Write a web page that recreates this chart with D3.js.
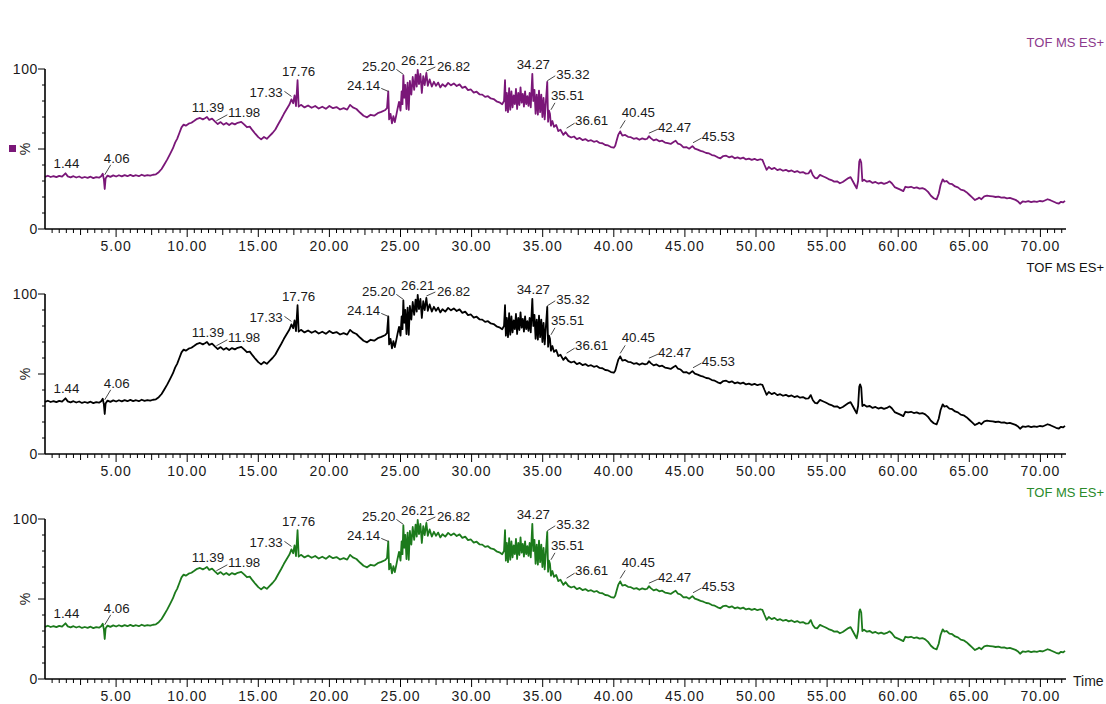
<!DOCTYPE html>
<html>
<head>
<meta charset="utf-8">
<script src="https://cdn.jsdelivr.net/npm/d3@7"></script>
<style>
  body { margin: 0; background: #fff; }
  svg { display: block; }
  text { font-family: "Liberation Sans", Arial, sans-serif; }
</style>
</head>
<body>
<svg id="chart" width="1106" height="704"></svg>
<script>
// Total ion chromatogram: [retention time (min), relative intensity (%)]
const chromatogram = [
  [0.00,32.6],[0.20,33.3],[0.40,32.5],[0.60,33.1],[0.80,32.4],[1.00,33.2],[1.20,32.7],[1.44,34.8],[1.60,32.9],[1.80,32.3],
  [2.00,33.0],[2.20,32.2],[2.40,32.8],[2.60,31.9],[2.80,32.5],[3.00,32.0],[3.20,32.7],[3.40,31.8],[3.60,32.4],[3.80,32.1],
  [3.95,33.0],[4.06,34.5],[4.14,31.0],[4.20,25.0],[4.26,31.5],[4.40,33.4],[4.60,32.6],[4.80,33.5],[5.00,32.8],[5.20,33.6],
  [5.40,32.9],[5.60,33.7],[5.80,33.0],[6.00,33.8],[6.20,33.1],[6.40,33.6],[6.60,33.0],[6.80,33.9],[7.00,33.2],[7.20,33.7],
  [7.40,33.3],[7.60,33.9],[7.80,34.2],[8.00,35.5],[8.20,37.5],[8.40,40.5],[8.60,43.5],[8.80,47.0],[9.00,50.5],[9.15,54.0],
  [9.30,56.5],[9.45,60.0],[9.60,63.5],[9.75,65.2],[9.90,64.6],[10.10,65.8],[10.30,66.4],[10.50,67.6],[10.70,68.9],[10.90,69.4],
  [11.10,68.5],[11.25,69.2],[11.39,70.0],[11.55,68.2],[11.75,69.0],[11.98,67.0],[12.15,65.6],[12.35,66.8],[12.55,65.2],[12.75,66.3],
  [12.95,65.0],[13.15,66.2],[13.35,65.4],[13.55,66.4],[13.80,67.0],[14.00,65.4],[14.20,63.6],[14.40,64.0],[14.60,61.6],[14.80,59.4],
  [15.00,57.4],[15.20,56.0],[15.40,57.5],[15.60,56.4],[15.80,58.2],[16.00,60.0],[16.20,62.2],[16.40,65.5],[16.60,68.6],[16.80,72.0],
  [17.00,75.0],[17.20,78.0],[17.33,81.0],[17.45,78.6],[17.55,83.5],[17.65,76.8],[17.76,93.0],[17.84,76.5],[18.00,77.6],[18.25,76.0],
  [18.50,77.2],[18.75,75.8],[19.00,76.9],[19.25,75.3],[19.50,76.4],[19.75,75.1],[20.00,76.9],[20.25,75.5],[20.50,76.2],[20.75,74.7],
  [21.00,75.5],[21.25,74.6],[21.45,77.6],[21.65,76.0],[21.90,75.0],[22.15,72.8],[22.40,70.8],[22.65,69.8],[22.90,71.4],[23.15,70.8],
  [23.40,72.4],[23.65,73.2],[23.90,74.2],[24.05,75.5],[24.14,86.0],[24.20,68.5],[24.30,72.0],[24.40,66.0],[24.50,70.5],[24.60,66.8],
  [24.70,71.0],[24.80,75.5],[24.90,79.5],[25.00,74.0],[25.08,86.0],[25.14,78.0],[25.20,96.0],[25.27,82.0],[25.34,90.0],[25.42,75.0],
  [25.50,91.5],[25.58,74.5],[25.66,92.5],[25.76,84.0],[25.86,95.0],[25.96,87.0],[26.06,96.5],[26.14,89.0],[26.21,99.5],[26.30,90.5],
  [26.40,97.0],[26.50,85.0],[26.60,95.5],[26.70,90.0],[26.82,97.5],[26.92,89.5],[27.05,93.5],[27.20,89.0],[27.35,92.0],[27.50,89.5],
  [27.65,91.5],[27.80,88.5],[27.95,90.5],[28.15,89.0],[28.35,91.3],[28.55,89.8],[28.75,91.0],[28.95,89.4],[29.15,90.4],[29.35,88.2],
  [29.55,89.0],[29.75,86.8],[29.95,87.2],[30.15,85.2],[30.35,85.8],[30.55,84.2],[30.75,84.0],[30.95,82.6],[31.15,83.0],[31.35,81.6],
  [31.55,81.2],[31.75,79.8],[31.95,79.2],[32.15,78.0],[32.28,80.0],[32.35,93.0],[32.41,74.0],[32.48,85.0],[32.56,73.0],[32.64,88.0],
  [32.72,74.5],[32.80,86.0],[32.88,76.0],[32.96,83.5],[33.04,78.0],[33.12,87.5],[33.20,75.0],[33.28,85.0],[33.36,77.5],[33.44,88.5],
  [33.52,79.0],[33.60,84.5],[33.68,76.5],[33.76,86.0],[33.84,78.0],[33.92,83.0],[34.00,77.0],[34.08,85.0],[34.16,76.0],[34.27,97.0],
  [34.34,80.0],[34.42,87.0],[34.50,72.0],[34.58,84.0],[34.66,71.5],[34.74,86.5],[34.82,73.0],[34.90,84.0],[34.98,70.0],[35.06,82.0],
  [35.14,68.5],[35.22,79.0],[35.32,92.0],[35.38,67.0],[35.44,74.0],[35.51,72.0],[35.58,64.5],[35.68,67.5],[35.80,63.8],[35.95,65.0],
  [36.10,61.2],[36.25,62.0],[36.45,58.8],[36.61,60.5],[36.80,58.2],[37.00,57.2],[37.20,57.8],[37.40,56.2],[37.60,56.9],[37.80,55.6],
  [38.00,56.2],[38.20,55.0],[38.40,55.5],[38.60,54.5],[38.80,55.0],[39.00,53.8],[39.20,53.6],[39.40,52.5],[39.60,52.2],[39.80,51.2],
  [40.00,50.8],[40.10,52.0],[40.22,56.0],[40.32,59.0],[40.45,61.0],[40.60,58.4],[40.80,58.8],[41.00,57.6],[41.20,57.4],[41.40,56.4],
  [41.60,56.8],[41.80,55.8],[42.00,56.6],[42.20,56.0],[42.35,56.4],[42.47,58.0],[42.60,56.8],[42.80,55.4],[43.00,56.0],[43.20,54.8],
  [43.40,55.2],[43.60,54.0],[43.80,53.6],[44.00,53.2],[44.20,54.4],[44.35,55.2],[44.50,53.4],[44.70,52.8],[44.90,51.0],[45.10,51.2],
  [45.30,50.2],[45.53,51.8],[45.70,50.2],[45.90,49.6],[46.10,48.8],[46.30,48.3],[46.50,47.5],[46.70,47.2],[46.90,46.2],[47.10,45.8],
  [47.30,44.8],[47.50,44.2],[47.70,45.6],[47.90,45.8],[48.10,44.8],[48.30,45.4],[48.50,44.2],[48.70,44.8],[48.90,44.0],[49.10,44.6],
  [49.30,43.5],[49.50,44.0],[49.70,43.2],[49.90,43.8],[50.10,43.0],[50.30,43.6],[50.45,43.2],[50.60,40.0],[50.75,37.0],[50.90,38.8],
  [51.10,37.4],[51.30,38.2],[51.50,36.8],[51.70,37.4],[51.90,36.4],[52.10,37.0],[52.30,36.0],[52.50,36.6],[52.70,35.6],[52.90,36.2],
  [53.10,35.2],[53.30,35.6],[53.50,34.6],[53.70,34.8],[53.85,36.8],[54.00,33.6],[54.15,32.0],[54.30,31.6],[54.50,33.8],[54.70,33.0],
  [54.90,32.2],[55.10,31.2],[55.30,30.6],[55.50,29.6],[55.70,29.8],[55.90,28.6],[56.10,29.4],[56.30,30.6],[56.50,31.8],[56.65,32.4],
  [56.80,30.0],[56.95,27.5],[57.08,25.4],[57.18,30.0],[57.26,42.0],[57.32,43.5],[57.40,41.5],[57.48,30.0],[57.60,30.8],[57.80,29.6],
  [58.00,30.0],[58.20,28.8],[58.40,29.4],[58.60,28.4],[58.80,29.0],[59.00,28.2],[59.20,28.8],[59.40,29.8],[59.55,28.6],[59.75,26.2],
  [59.95,25.4],[60.15,24.6],[60.36,23.7],[60.50,26.4],[60.70,26.0],[60.90,26.4],[61.10,25.6],[61.30,26.0],[61.50,25.2],[61.70,25.6],
  [61.90,24.8],[62.10,23.2],[62.30,20.8],[62.50,19.2],[62.70,18.5],[62.85,22.0],[62.98,27.5],[63.13,31.0],[63.25,29.6],[63.40,30.0],
  [63.60,28.4],[63.80,28.0],[64.00,26.6],[64.20,26.0],[64.40,24.6],[64.60,24.2],[64.80,23.0],[65.00,21.4],[65.20,19.8],[65.40,18.1],
  [65.55,18.8],[65.70,19.6],[65.85,18.6],[66.05,20.4],[66.25,20.8],[66.45,20.6],[66.65,20.4],[66.85,20.0],[67.05,20.2],[67.25,19.6],
  [67.45,19.8],[67.65,19.2],[67.85,19.4],[68.05,18.8],[68.25,18.2],[68.40,17.4],[68.57,15.8],[68.75,17.2],[68.95,17.0],[69.15,17.4],
  [69.35,16.8],[69.55,17.3],[69.75,16.9],[69.95,17.5],[70.15,17.2],[70.35,18.0],[70.50,18.6],[70.70,18.0],[70.90,17.2],[71.10,16.4],
  [71.30,15.9],[71.45,17.0],[71.60,16.6],[71.73,17.6]
];

// Retention times of the annotated peaks
const peakLabels = ["1.44","4.06","11.39","11.98","17.33","17.76","24.14","25.20","26.21","26.82",
                    "34.27","35.32","35.51","36.61","40.45","42.47","45.53"];

// One trace per detector function
const traceNames = ["TOF MS ES+", "TOF MS ES+", "TOF MS ES+"];
const traceColors = ["#7a1778", "#000000", "#1c7a1c"];
const titleColors = ["#8c3a8c", "#111111", "#2a8a2a"];

const xTickLabels = [5, 10, 15, 20, 25, 30, 35, 40, 45, 50, 55, 60, 65, 70];
const yTickLabels = [0, 100];

// ---- layout ----
const svg = d3.select("#chart");
const left = 45, right = 1066;
const panelBottoms = [229, 454, 679];
const panelHeight = 160;
const xMax = 71.8;

const x = d3.scaleLinear().domain([0, xMax]).range([left, right]);

// label placement relative to the apex (text offset, anchor, optional leader line)
const labelPlacement = {
  "1.44":  { a: "middle", dx: 1,    dy: -5 },
  "4.06":  { a: "middle", dx: 14,   dy: -11,  lead: [2, 1, 8, -9] },
  "11.39": { a: "middle", dx: 1,    dy: -5 },
  "11.98": { a: "start",  dx: 12.6, dy: -5,   lead: [1, -1, 12, -7] },
  "17.33": { a: "end",    dx: -8.7, dy: -2.7, lead: [0, -3, -7, -8] },
  "17.76": { a: "middle", dx: 1,    dy: -4 },
  "24.14": { a: "end",    dx: -8,   dy: -1.4, lead: [0, 0, -7, -3] },
  "25.20": { a: "end",    dx: -8,   dy: -4.7, lead: [0, -1, -7, -6] },
  "26.21": { a: "middle", dx: 0,    dy: -5 },
  "26.82": { a: "start",  dx: 10.6, dy: -2.3, lead: [0, -2, 9, -6] },
  "34.27": { a: "middle", dx: 1,    dy: -4.5 },
  "35.32": { a: "start",  dx: 9,    dy: -2.8, lead: [0, -1, 8, -6] },
  "35.51": { a: "start",  dx: 1,    dy: -13.8, lead: [1, -4, 5, -11] },
  "36.61": { a: "start",  dx: 9.4,  dy: -7,   lead: [1, -4, 9, -9] },
  "40.45": { a: "start",  dx: 1.5,  dy: -14.7, lead: [0, -3, 5, -11] },
  "42.47": { a: "start",  dx: 9,    dy: -4.5, lead: [0, -3, 9, -7] },
  "45.53": { a: "start",  dx: 9.3,  dy: -5.4, lead: [0.6, -3.4, 9, -8] }
};

function valueAt(t) {
  let best = chromatogram[0];
  for (const p of chromatogram) if (Math.abs(p[0] - t) < Math.abs(best[0] - t)) best = p;
  return best[1];
}

const axisColor = "#000";
const textColor = "#1a1a1a";

panelBottoms.forEach((y0, i) => {
  const y = d3.scaleLinear().domain([0, 100]).range([y0, y0 - panelHeight]);
  const g = svg.append("g");

  // trace
  const line = d3.line().x(d => x(d[0])).y(d => y(d[1]));
  g.append("path")
    .datum(chromatogram)
    .attr("fill", "none")
    .attr("stroke", traceColors[i])
    .attr("stroke-width", 1.8)
    .attr("stroke-linejoin", "round")
    .attr("d", line);

  // y axis
  g.append("line").attr("x1", left).attr("x2", left)
    .attr("y1", y(0)).attr("y2", y(100)).attr("stroke", axisColor).attr("stroke-width", 1.6);
  d3.range(0, 101, 10).forEach(v => {
    const major = v % 50 === 0;
    g.append("line")
      .attr("x1", left - (major ? 7 : 3)).attr("x2", left)
      .attr("y1", y(v)).attr("y2", y(v))
      .attr("stroke", axisColor).attr("stroke-width", 1);
  });
  yTickLabels.forEach(v => {
    g.append("text")
      .attr("x", left - 7).attr("y", y(v) + 5)
      .attr("text-anchor", "end")
      .attr("font-size", 14).attr("letter-spacing", 0.6)
      .attr("fill", textColor)
      .text(v);
  });
  g.append("text")
    .attr("transform", `translate(30,${y(50)}) rotate(-90)`)
    .attr("text-anchor", "middle")
    .attr("font-size", 14)
    .attr("fill", textColor)
    .text("%");
  if (i === 0) {
    g.append("rect").attr("x", 9).attr("y", y(50) - 4).attr("width", 7).attr("height", 7)
      .attr("fill", traceColors[0]);
  }

  // x axis
  g.append("line").attr("x1", left).attr("x2", right)
    .attr("y1", y0).attr("y2", y0).attr("stroke", axisColor).attr("stroke-width", 1.6);
  d3.range(0.5, xMax, 0.5).forEach(t => {
    const len = (t % 5 === 0) ? 8 : (t % 2.5 === 0 ? 6 : 4);
    g.append("line")
      .attr("x1", x(t)).attr("x2", x(t))
      .attr("y1", y0).attr("y2", y0 + len)
      .attr("stroke", axisColor).attr("stroke-width", 1);
  });
  xTickLabels.forEach(t => {
    g.append("text")
      .attr("x", x(t)).attr("y", y0 + 22)
      .attr("text-anchor", "middle")
      .attr("font-size", 14).attr("letter-spacing", 1)
      .attr("fill", textColor)
      .text(t.toFixed(2));
  });

  // function title
  g.append("text")
    .attr("x", 1104).attr("y", y(100) - 22)
    .attr("text-anchor", "end")
    .attr("font-size", 13)
    .attr("fill", titleColors[i])
    .text(traceNames[i]);

  // peak annotations
  peakLabels.forEach(lbl => {
    const t = +lbl;
    const px = x(t), py = y(valueAt(t));
    const p = labelPlacement[lbl];
    if (p.lead) {
      g.append("line")
        .attr("x1", px + p.lead[0]).attr("y1", py + p.lead[1])
        .attr("x2", px + p.lead[2]).attr("y2", py + p.lead[3])
        .attr("stroke", "#333").attr("stroke-width", 0.9);
    }
    g.append("text")
      .attr("x", px + p.dx).attr("y", py + p.dy)
      .attr("text-anchor", p.a)
      .attr("font-size", 13.3)
      .attr("fill", textColor)
      .text(lbl);
  });
});

// shared time axis title
svg.append("text")
  .attr("x", 1073).attr("y", 686)
  .attr("font-size", 14)
  .attr("fill", textColor)
  .text("Time");
</script>
</body>
</html>
